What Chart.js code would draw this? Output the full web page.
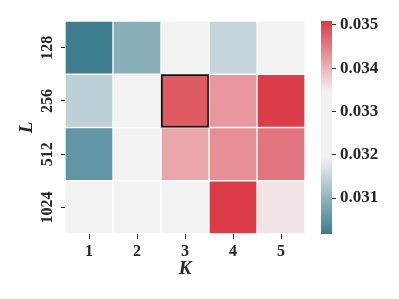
<!DOCTYPE html>
<html>
<head>
<meta charset="utf-8">
<script src="https://cdn.jsdelivr.net/npm/chart.js@4/dist/chart.umd.min.js"></script>
<style>
  html, body { margin: 0; padding: 0; background: #fff; }
  #wrap { width: 399px; height: 299px; }
</style>
</head>
<body>
<div id="wrap"><canvas id="heat"></canvas></div>
<script>
// data (one array per row L, one value per K)
const kLabels = ['1', '2', '3', '4', '5'];
const lLabels = ['128', '256', '512', '1024'];
const row128  = [0.03018, 0.03091, 0.03270, 0.03150, 0.03280];
const row256  = [0.03143, 0.03260, 0.03480, 0.03426, 0.03507];
const row512  = [0.03055, 0.03270, 0.03413, 0.03433, 0.03456];
const row1024 = [0.03260, 0.03270, 0.03280, 0.03509, 0.03358];
const cbTicks = [0.031, 0.032, 0.033, 0.034, 0.035];
const vMin = 0.03017;
const vMax = 0.03509;
const best = { row: 1, col: 2 }; // boxed cell (L=256, K=3)

const rows = [row128, row256, row512, row1024];

// diverging colormap (blue -> light gray -> red)
const cmapStops = [
    { v: 0.03017, c: [61, 125, 143] },
    { v: 0.03190, c: [236, 240, 242] },
    { v: 0.03200, c: [242, 242, 242] },
    { v: 0.03340, c: [242, 242, 242] },
    { v: 0.03350, c: [243, 236, 237] },
    { v: 0.03509, c: [218, 59, 70] }
];

function cmap(v) {
    const s = cmapStops;
    if (v <= s[0].v) return 'rgb(' + s[0].c.join(',') + ')';
    for (let i = 1; i < s.length; i++) {
        if (v <= s[i].v) {
            const t = (v - s[i - 1].v) / (s[i].v - s[i - 1].v);
            const c = s[i - 1].c.map((a, j) => Math.round(a + (s[i].c[j] - a) * t));
            return 'rgb(' + c.join(',') + ')';
        }
    }
    return 'rgb(' + s[s.length - 1].c.join(',') + ')';
}

const serif = "'Liberation Serif', 'Times New Roman', serif";
const ink = '#262626';

// barra de color a la derecha
const colorbar = {
    id: 'colorbar',
    afterLayout(chart) {
        chart.scales.cb.left += 27;
    },
    afterDraw(chart) {
        const ctx = chart.ctx;
        const s = chart.scales.cb;
        const x0 = chart.chartArea.right + 16;
        const yTop = s.getPixelForValue(vMax);
        const yBot = s.getPixelForValue(vMin);
        const g = ctx.createLinearGradient(0, yBot, 0, yTop);
        cmapStops.forEach(st => g.addColorStop((st.v - vMin) / (vMax - vMin), cmap(st.v)));
        ctx.save();
        ctx.fillStyle = g;
        ctx.fillRect(x0, yTop, 11, yBot - yTop);
        ctx.restore();
    }
};

const datasets = rows.map((vals, r) => ({
    label: lLabels[r],
    data: vals.map(() => 1),
    backgroundColor: vals.map(cmap),
    borderColor: vals.map((v, c) => (r === best.row && c === best.col) ? '#111111' : '#ffffff'),
    borderWidth: vals.map((v, c) => (r === best.row && c === best.col) ? 2 : 1),
    borderSkipped: false,
    barPercentage: 1,
    categoryPercentage: 1
}));

new Chart(document.getElementById('heat').getContext('2d'), {
    type: 'bar',
    data: { labels: kLabels, datasets: datasets },
    options: {
        responsive: true,
        maintainAspectRatio: false,
        animation: false,
        layout: { padding: { top: 21, left: 0, right: 0, bottom: 0 } },
        plugins: { legend: { display: false }, tooltip: { enabled: false } },
        scales: {
            x: {
                stacked: true,
                grid: { display: true, drawOnChartArea: false, offset: false, tickLength: 5, tickColor: ink, tickWidth: 1 },
                border: { display: false },
                ticks: { color: ink, padding: 3, font: { family: serif, size: 16, weight: 'bold' } },
                title: { display: true, text: 'K', color: ink, padding: { top: 0, bottom: 19 },
                         font: { family: serif, size: 19, weight: 'bold', style: 'italic' } },
                afterFit: s => { s.height = 65; }
            },
            y: {
                stacked: true,
                min: 0,
                max: 4,
                reverse: true,
                afterBuildTicks: s => { s.ticks = [0.5, 1.5, 2.5, 3.5].map(v => ({ value: v })); },
                grid: { display: true, drawOnChartArea: false, tickLength: 4, tickColor: ink, tickWidth: 1 },
                border: { display: false },
                ticks: {
                    color: ink, padding: -3, minRotation: 90, maxRotation: 90, crossAlign: 'center',
                    font: { family: serif, size: 16, weight: 'bold' },
                    callback: v => lLabels[Math.floor(v)]
                },
                title: { display: true, text: 'L', color: ink, padding: { top: 16, bottom: 0 },
                         font: { family: serif, size: 19, weight: 'bold', style: 'italic' } },
                afterFit: s => { s.width = 65; }
            },
            cb: {
                type: 'linear',
                position: 'right',
                min: vMin,
                max: vMax,
                afterBuildTicks: s => { s.ticks = cbTicks.map(v => ({ value: v })); },
                grid: { display: true, drawOnChartArea: false, tickLength: 4, tickColor: ink, tickWidth: 1 },
                border: { display: false },
                ticks: { color: ink, padding: 4, font: { family: serif, size: 17, weight: 'bold' },
                         callback: v => v.toFixed(3) },
                afterFit: s => { s.width = 94; }
            }
        }
    },
    plugins: [colorbar]
});
</script>
</body>
</html>
